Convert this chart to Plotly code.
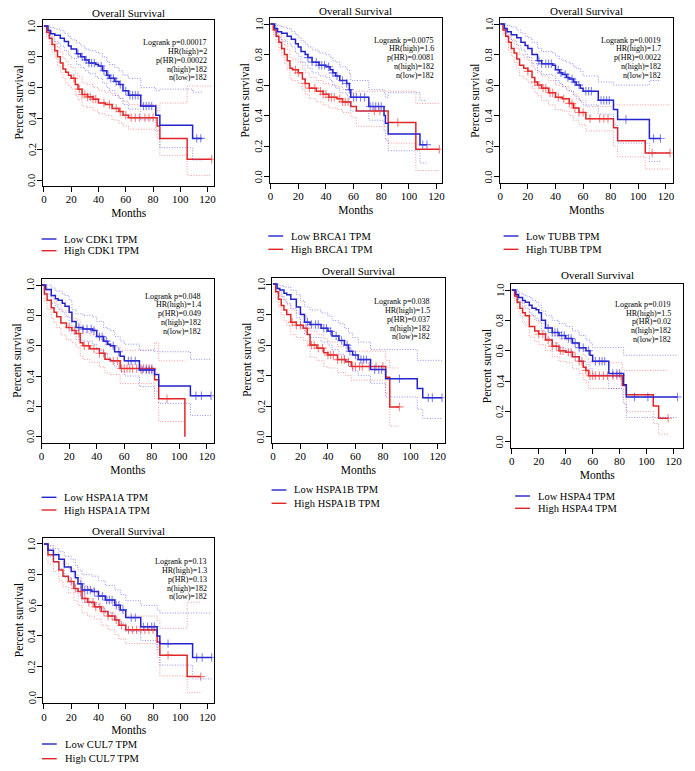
import plotly.graph_objects as go

W, H = 695, 771

# ---------------- data ----------------
GENES = ["CDK1", "BRCA1", "TUBB", "HSPA1A", "HSPA1B", "HSPA4", "CUL7"]
LOGRANK_P = ["0.00017", "0.0075", "0.0019", "0.048", "0.038", "0.019", "0.13"]
HR_HIGH = ["2", "1.6", "1.7", "1.4", "1.5", "1.5", "1.3"]
P_HR = ["0.00022", "0.0081", "0.0022", "0.049", "0.037", "0.02", "0.13"]
N_HIGH = [182, 182, 182, 182, 182, 182, 182]
N_LOW = [182, 182, 182, 182, 182, 182, 182]
X_TICKS = [0, 20, 40, 60, 80, 100, 120]
Y_TICKS = [0.0, 0.2, 0.4, 0.6, 0.8, 1.0]

# CDK1
CDK1_LOW_T = [0, 3, 5, 8, 12, 15, 18, 20, 24, 27, 30, 33, 38, 40, 43, 46, 48, 52, 55, 58, 62, 71, 82, 85, 109, 116]
CDK1_LOW_S = [1.0, 0.97, 0.95, 0.94, 0.92, 0.90, 0.87, 0.85, 0.82, 0.80, 0.78, 0.76, 0.75, 0.74, 0.71, 0.68, 0.66, 0.64, 0.62, 0.58, 0.55, 0.48, 0.42, 0.355, 0.27, 0.27]
CDK1_LOW_UP = [1.0, 1.0, 0.99, 0.98, 0.97, 0.95, 0.93, 0.91, 0.89, 0.87, 0.85, 0.84, 0.83, 0.82, 0.80, 0.77, 0.75, 0.73, 0.71, 0.68, 0.66, 0.60, 0.58, 0.59, 0.57, 0.57]
CDK1_LOW_LO = [1.0, 0.94, 0.91, 0.89, 0.87, 0.84, 0.81, 0.79, 0.75, 0.73, 0.71, 0.69, 0.67, 0.66, 0.63, 0.60, 0.58, 0.55, 0.53, 0.49, 0.46, 0.39, 0.32, 0.21, 0.13, 0.13]
CDK1_LOW_CENS = [25, 28, 31, 33, 35, 37, 42, 44, 47, 49, 51, 53, 56, 60, 63, 65, 67, 69, 73, 75, 77, 79, 112, 115]
CDK1_HIGH_T = [0, 2, 4, 6, 8, 10, 12, 14, 16, 18, 20, 23, 25, 28, 32, 36, 40, 45, 50, 55, 58, 62, 83, 85, 105, 123]
CDK1_HIGH_S = [1.0, 0.96, 0.92, 0.88, 0.84, 0.80, 0.76, 0.72, 0.70, 0.68, 0.66, 0.62, 0.59, 0.555, 0.54, 0.525, 0.50, 0.49, 0.465, 0.445, 0.42, 0.405, 0.35, 0.27, 0.135, 0.135]
CDK1_HIGH_UP = [1.0, 0.99, 0.96, 0.93, 0.90, 0.86, 0.83, 0.79, 0.77, 0.75, 0.73, 0.69, 0.67, 0.63, 0.62, 0.60, 0.58, 0.57, 0.55, 0.53, 0.51, 0.49, 0.45, 0.50, 0.61, 0.61]
CDK1_HIGH_LO = [1.0, 0.93, 0.88, 0.83, 0.79, 0.74, 0.70, 0.66, 0.63, 0.61, 0.59, 0.55, 0.52, 0.48, 0.47, 0.45, 0.43, 0.42, 0.39, 0.37, 0.35, 0.33, 0.27, 0.16, 0.03, 0.03]
CDK1_HIGH_CENS = [22, 26, 28, 30, 32, 34, 36, 38, 44, 48, 53, 56, 60, 64, 67, 70, 74, 77, 80, 123]

# BRCA1
BRCA1_LOW_T = [0, 3, 5, 8, 12, 15, 18, 20, 22, 25, 27, 30, 35, 40, 43, 45, 47, 50, 55, 57, 58, 71, 82, 83, 85, 108, 113]
BRCA1_LOW_S = [1.0, 0.97, 0.95, 0.94, 0.92, 0.90, 0.87, 0.85, 0.82, 0.80, 0.78, 0.75, 0.73, 0.72, 0.70, 0.68, 0.66, 0.63, 0.61, 0.57, 0.52, 0.46, 0.40, 0.35, 0.28, 0.21, 0.21]
BRCA1_LOW_UP = [1.0, 1.0, 0.99, 0.98, 0.97, 0.95, 0.93, 0.91, 0.89, 0.87, 0.85, 0.83, 0.81, 0.80, 0.78, 0.76, 0.75, 0.72, 0.70, 0.67, 0.63, 0.57, 0.55, 0.52, 0.55, 0.50, 0.50]
BRCA1_LOW_LO = [1.0, 0.94, 0.91, 0.89, 0.87, 0.85, 0.81, 0.79, 0.75, 0.73, 0.71, 0.68, 0.66, 0.65, 0.63, 0.60, 0.58, 0.55, 0.53, 0.49, 0.43, 0.37, 0.30, 0.24, 0.17, 0.09, 0.09]
BRCA1_LOW_CENS = [27, 30, 33, 35, 37, 39, 42, 45, 48, 52, 55, 57, 60, 62, 65, 68, 72, 74, 76, 78, 80, 110, 113]
BRCA1_HIGH_T = [0, 2, 4, 6, 8, 10, 12, 14, 16, 20, 23, 25, 28, 33, 38, 42, 48, 52, 58, 62, 85, 105, 122]
BRCA1_HIGH_S = [1.0, 0.96, 0.92, 0.88, 0.84, 0.80, 0.76, 0.71, 0.70, 0.68, 0.64, 0.61, 0.58, 0.56, 0.54, 0.52, 0.51, 0.49, 0.46, 0.43, 0.355, 0.18, 0.18]
BRCA1_HIGH_UP = [1.0, 0.99, 0.96, 0.93, 0.90, 0.86, 0.83, 0.78, 0.77, 0.75, 0.71, 0.68, 0.65, 0.63, 0.61, 0.60, 0.59, 0.57, 0.55, 0.56, 0.56, 0.48, 0.48]
BRCA1_HIGH_LO = [1.0, 0.93, 0.88, 0.83, 0.79, 0.74, 0.70, 0.64, 0.63, 0.61, 0.57, 0.54, 0.51, 0.49, 0.47, 0.45, 0.44, 0.42, 0.39, 0.33, 0.22, 0.04, 0.04]
BRCA1_HIGH_CENS = [18, 20, 25, 28, 32, 36, 38, 40, 42, 44, 46, 50, 52, 54, 56, 75, 79, 92, 122]

# TUBB
TUBB_LOW_T = [0, 3, 5, 8, 12, 15, 18, 20, 23, 27, 30, 38, 40, 43, 45, 48, 50, 53, 55, 58, 60, 71, 82, 85, 108, 116]
TUBB_LOW_S = [1.0, 0.97, 0.95, 0.93, 0.91, 0.88, 0.86, 0.84, 0.80, 0.76, 0.74, 0.73, 0.70, 0.68, 0.67, 0.65, 0.64, 0.62, 0.60, 0.58, 0.56, 0.50, 0.44, 0.375, 0.25, 0.25]
TUBB_LOW_UP = [1.0, 1.0, 0.99, 0.98, 0.96, 0.94, 0.92, 0.91, 0.88, 0.84, 0.82, 0.81, 0.79, 0.77, 0.76, 0.75, 0.74, 0.72, 0.71, 0.69, 0.66, 0.62, 0.60, 0.60, 0.63, 0.63]
TUBB_LOW_LO = [1.0, 0.94, 0.91, 0.89, 0.86, 0.83, 0.80, 0.78, 0.74, 0.69, 0.67, 0.66, 0.63, 0.61, 0.59, 0.57, 0.56, 0.54, 0.51, 0.49, 0.47, 0.41, 0.34, 0.22, 0.10, 0.10]
TUBB_LOW_CENS = [28, 30, 33, 35, 37, 42, 44, 47, 49, 52, 54, 57, 62, 64, 66, 73, 75, 77, 79, 91, 111, 116]
TUBB_HIGH_T = [0, 2, 4, 6, 8, 10, 12, 14, 17, 20, 23, 25, 27, 30, 35, 40, 45, 50, 53, 57, 62, 82, 85, 105, 123]
TUBB_HIGH_S = [1.0, 0.96, 0.92, 0.88, 0.84, 0.81, 0.77, 0.73, 0.71, 0.69, 0.65, 0.62, 0.60, 0.58, 0.55, 0.52, 0.51, 0.48, 0.45, 0.42, 0.38, 0.32, 0.235, 0.155, 0.155]
TUBB_HIGH_UP = [1.0, 0.99, 0.96, 0.93, 0.90, 0.87, 0.84, 0.80, 0.78, 0.76, 0.72, 0.70, 0.68, 0.66, 0.63, 0.60, 0.59, 0.56, 0.53, 0.50, 0.46, 0.47, 0.47, 0.47, 0.47]
TUBB_HIGH_LO = [1.0, 0.93, 0.88, 0.83, 0.79, 0.75, 0.71, 0.66, 0.64, 0.62, 0.58, 0.55, 0.53, 0.50, 0.47, 0.44, 0.43, 0.40, 0.37, 0.34, 0.30, 0.20, 0.13, 0.05, 0.05]
TUBB_HIGH_CENS = [20, 25, 28, 31, 33, 36, 38, 42, 46, 50, 52, 54, 57, 60, 65, 72, 75, 78, 110, 123]

# HSPA1A
HSPA1A_LOW_T = [0, 3, 7, 10, 12, 15, 17, 20, 22, 25, 30, 37, 40, 45, 48, 50, 53, 57, 60, 71, 82, 85, 108, 123]
HSPA1A_LOW_S = [1.0, 0.97, 0.93, 0.91, 0.90, 0.88, 0.86, 0.82, 0.76, 0.72, 0.71, 0.70, 0.66, 0.63, 0.61, 0.60, 0.56, 0.53, 0.50, 0.44, 0.41, 0.335, 0.27, 0.27]
HSPA1A_LOW_UP = [1.0, 1.0, 0.98, 0.96, 0.96, 0.94, 0.93, 0.90, 0.84, 0.81, 0.80, 0.79, 0.76, 0.72, 0.71, 0.70, 0.66, 0.63, 0.61, 0.57, 0.56, 0.56, 0.51, 0.51]
HSPA1A_LOW_LO = [1.0, 0.94, 0.88, 0.86, 0.84, 0.82, 0.79, 0.75, 0.68, 0.64, 0.63, 0.61, 0.57, 0.54, 0.52, 0.50, 0.46, 0.43, 0.40, 0.33, 0.30, 0.22, 0.14, 0.14]
HSPA1A_LOW_CENS = [27, 30, 33, 36, 38, 42, 44, 47, 52, 56, 63, 65, 68, 73, 76, 78, 80, 112, 116, 123]
HSPA1A_HIGH_T = [0, 2, 4, 7, 9, 11, 14, 18, 22, 25, 28, 30, 35, 42, 46, 50, 57, 82, 85, 104]
HSPA1A_HIGH_S = [1.0, 0.94, 0.90, 0.85, 0.82, 0.79, 0.75, 0.72, 0.70, 0.68, 0.62, 0.60, 0.58, 0.55, 0.51, 0.50, 0.45, 0.375, 0.25, 0.0]
HSPA1A_HIGH_UP = [1.0, 0.99, 0.96, 0.92, 0.89, 0.87, 0.83, 0.80, 0.78, 0.77, 0.71, 0.69, 0.67, 0.64, 0.60, 0.59, 0.57, 0.62, 0.50, 0.50]
HSPA1A_HIGH_LO = [1.0, 0.89, 0.84, 0.78, 0.75, 0.72, 0.67, 0.64, 0.62, 0.59, 0.53, 0.51, 0.49, 0.46, 0.42, 0.41, 0.35, 0.25, 0.10, 0.10]
HSPA1A_HIGH_CENS = [20, 24, 27, 31, 34, 38, 42, 45, 52, 55, 58, 60, 62, 64, 66, 69, 72, 74, 76, 78, 80, 91]

# HSPA1B
HSPA1B_LOW_T = [0, 3, 5, 8, 10, 13, 17, 20, 23, 27, 35, 40, 43, 48, 52, 55, 58, 62, 71, 82, 105, 109, 123]
HSPA1B_LOW_S = [1.0, 0.97, 0.96, 0.94, 0.93, 0.90, 0.85, 0.80, 0.75, 0.735, 0.71, 0.69, 0.66, 0.63, 0.60, 0.56, 0.535, 0.505, 0.44, 0.38, 0.315, 0.255, 0.255]
HSPA1B_LOW_UP = [1.0, 1.0, 0.99, 0.98, 0.98, 0.96, 0.93, 0.89, 0.85, 0.83, 0.81, 0.79, 0.76, 0.74, 0.71, 0.68, 0.65, 0.62, 0.57, 0.57, 0.50, 0.50, 0.50]
HSPA1B_LOW_LO = [1.0, 0.94, 0.92, 0.89, 0.87, 0.84, 0.78, 0.72, 0.67, 0.65, 0.62, 0.60, 0.57, 0.54, 0.50, 0.46, 0.43, 0.40, 0.35, 0.26, 0.18, 0.12, 0.12]
HSPA1B_LOW_CENS = [25, 28, 31, 33, 37, 39, 42, 46, 50, 54, 56, 60, 64, 66, 68, 74, 77, 79, 92, 113, 116, 123]
HSPA1B_HIGH_T = [0, 2, 4, 6, 8, 10, 13, 17, 22, 25, 27, 32, 37, 40, 47, 53, 57, 82, 85, 92]
HSPA1B_HIGH_S = [1.0, 0.95, 0.90, 0.86, 0.83, 0.80, 0.75, 0.73, 0.71, 0.67, 0.60, 0.58, 0.55, 0.535, 0.505, 0.49, 0.46, 0.39, 0.195, 0.195]
HSPA1B_HIGH_UP = [1.0, 0.99, 0.95, 0.92, 0.90, 0.87, 0.83, 0.81, 0.79, 0.75, 0.69, 0.67, 0.64, 0.62, 0.59, 0.58, 0.56, 0.50, 0.45, 0.45]
HSPA1B_HIGH_LO = [1.0, 0.91, 0.85, 0.80, 0.76, 0.73, 0.67, 0.65, 0.63, 0.59, 0.52, 0.50, 0.46, 0.45, 0.42, 0.40, 0.37, 0.28, 0.07, 0.07]
HSPA1B_HIGH_CENS = [14, 17, 20, 24, 28, 30, 33, 36, 40, 42, 44, 47, 50, 52, 55, 58, 60, 63, 65, 70, 75, 80, 92]

# HSPA4
HSPA4_LOW_T = [0, 3, 5, 8, 10, 13, 15, 18, 20, 22, 25, 30, 35, 40, 45, 50, 55, 58, 60, 72, 83, 85, 123]
HSPA4_LOW_S = [1.0, 0.97, 0.95, 0.93, 0.92, 0.90, 0.88, 0.87, 0.85, 0.80, 0.75, 0.72, 0.70, 0.68, 0.65, 0.62, 0.60, 0.57, 0.53, 0.45, 0.375, 0.295, 0.295]
HSPA4_LOW_UP = [1.0, 1.0, 0.98, 0.97, 0.96, 0.95, 0.93, 0.92, 0.90, 0.86, 0.83, 0.80, 0.78, 0.76, 0.73, 0.70, 0.67, 0.65, 0.62, 0.62, 0.57, 0.57, 0.57]
HSPA4_LOW_LO = [1.0, 0.94, 0.92, 0.89, 0.88, 0.85, 0.83, 0.81, 0.79, 0.73, 0.68, 0.65, 0.62, 0.60, 0.56, 0.53, 0.51, 0.48, 0.44, 0.35, 0.25, 0.16, 0.16]
HSPA4_LOW_CENS = [27, 30, 32, 34, 37, 39, 42, 44, 47, 50, 53, 57, 62, 65, 67, 69, 75, 78, 80, 91, 101, 123]
HSPA4_HIGH_T = [0, 2, 4, 6, 8, 10, 13, 17, 20, 25, 30, 35, 40, 45, 50, 53, 55, 57, 82, 85, 105, 109, 116]
HSPA4_HIGH_S = [1.0, 0.96, 0.92, 0.88, 0.85, 0.83, 0.76, 0.73, 0.71, 0.67, 0.63, 0.60, 0.59, 0.56, 0.53, 0.49, 0.47, 0.435, 0.37, 0.31, 0.235, 0.155, 0.155]
HSPA4_HIGH_UP = [1.0, 0.99, 0.96, 0.93, 0.91, 0.90, 0.83, 0.80, 0.78, 0.75, 0.70, 0.68, 0.67, 0.64, 0.61, 0.57, 0.55, 0.52, 0.47, 0.47, 0.47, 0.47, 0.47]
HSPA4_HIGH_LO = [1.0, 0.93, 0.88, 0.83, 0.79, 0.77, 0.69, 0.66, 0.64, 0.60, 0.56, 0.53, 0.52, 0.48, 0.45, 0.41, 0.39, 0.35, 0.29, 0.20, 0.12, 0.05, 0.05]
HSPA4_HIGH_CENS = [20, 23, 27, 30, 33, 36, 38, 42, 44, 47, 50, 52, 55, 58, 60, 62, 65, 68, 71, 75, 78, 81, 116]

# CUL7
CUL7_LOW_T = [0, 3, 7, 11, 15, 20, 23, 25, 28, 35, 40, 45, 52, 56, 60, 71, 83, 85, 109, 123]
CUL7_LOW_S = [1.0, 0.96, 0.93, 0.90, 0.85, 0.82, 0.78, 0.74, 0.70, 0.69, 0.66, 0.635, 0.60, 0.57, 0.52, 0.46, 0.40, 0.35, 0.26, 0.26]
CUL7_LOW_UP = [1.0, 0.99, 0.97, 0.95, 0.92, 0.90, 0.86, 0.83, 0.80, 0.79, 0.76, 0.73, 0.70, 0.67, 0.63, 0.60, 0.57, 0.55, 0.55, 0.55]
CUL7_LOW_LO = [1.0, 0.92, 0.88, 0.84, 0.78, 0.74, 0.70, 0.66, 0.62, 0.61, 0.58, 0.55, 0.51, 0.48, 0.43, 0.37, 0.31, 0.21, 0.12, 0.12]
CUL7_LOW_CENS = [27, 30, 32, 34, 37, 40, 43, 46, 48, 50, 53, 55, 58, 64, 67, 73, 76, 79, 81, 91, 112, 116, 123]
CUL7_HIGH_T = [0, 3, 7, 11, 14, 18, 22, 25, 28, 32, 37, 42, 47, 52, 55, 60, 83, 85, 105, 115]
CUL7_HIGH_S = [1.0, 0.93, 0.885, 0.83, 0.79, 0.755, 0.71, 0.69, 0.645, 0.62, 0.59, 0.56, 0.53, 0.505, 0.47, 0.44, 0.36, 0.275, 0.135, 0.135]
CUL7_HIGH_UP = [1.0, 0.97, 0.94, 0.90, 0.87, 0.84, 0.80, 0.78, 0.73, 0.71, 0.68, 0.65, 0.62, 0.59, 0.56, 0.53, 0.50, 0.45, 0.62, 0.62]
CUL7_HIGH_LO = [1.0, 0.87, 0.82, 0.76, 0.72, 0.68, 0.63, 0.60, 0.55, 0.53, 0.51, 0.47, 0.44, 0.41, 0.38, 0.35, 0.26, 0.14, 0.03, 0.03]
CUL7_HIGH_CENS = [20, 23, 27, 30, 33, 36, 38, 41, 44, 47, 50, 53, 57, 62, 65, 68, 71, 74, 77, 80, 91, 115]

CURVES = [
    (CDK1_LOW_T, CDK1_LOW_S, CDK1_LOW_UP, CDK1_LOW_LO, CDK1_LOW_CENS,
     CDK1_HIGH_T, CDK1_HIGH_S, CDK1_HIGH_UP, CDK1_HIGH_LO, CDK1_HIGH_CENS),
    (BRCA1_LOW_T, BRCA1_LOW_S, BRCA1_LOW_UP, BRCA1_LOW_LO, BRCA1_LOW_CENS,
     BRCA1_HIGH_T, BRCA1_HIGH_S, BRCA1_HIGH_UP, BRCA1_HIGH_LO, BRCA1_HIGH_CENS),
    (TUBB_LOW_T, TUBB_LOW_S, TUBB_LOW_UP, TUBB_LOW_LO, TUBB_LOW_CENS,
     TUBB_HIGH_T, TUBB_HIGH_S, TUBB_HIGH_UP, TUBB_HIGH_LO, TUBB_HIGH_CENS),
    (HSPA1A_LOW_T, HSPA1A_LOW_S, HSPA1A_LOW_UP, HSPA1A_LOW_LO, HSPA1A_LOW_CENS,
     HSPA1A_HIGH_T, HSPA1A_HIGH_S, HSPA1A_HIGH_UP, HSPA1A_HIGH_LO, HSPA1A_HIGH_CENS),
    (HSPA1B_LOW_T, HSPA1B_LOW_S, HSPA1B_LOW_UP, HSPA1B_LOW_LO, HSPA1B_LOW_CENS,
     HSPA1B_HIGH_T, HSPA1B_HIGH_S, HSPA1B_HIGH_UP, HSPA1B_HIGH_LO, HSPA1B_HIGH_CENS),
    (HSPA4_LOW_T, HSPA4_LOW_S, HSPA4_LOW_UP, HSPA4_LOW_LO, HSPA4_LOW_CENS,
     HSPA4_HIGH_T, HSPA4_HIGH_S, HSPA4_HIGH_UP, HSPA4_HIGH_LO, HSPA4_HIGH_CENS),
    (CUL7_LOW_T, CUL7_LOW_S, CUL7_LOW_UP, CUL7_LOW_LO, CUL7_LOW_CENS,
     CUL7_HIGH_T, CUL7_HIGH_S, CUL7_HIGH_UP, CUL7_HIGH_LO, CUL7_HIGH_CENS),
]

# ---------------- layout geometry (pixels) ----------------
# x0px, x120px, box_left, box_right, y(1.0)px, y(0.0)px, title_y, stats_right, stats_top, legend_x, legend_y, legend_gap
GEOM = [
    (41.3, 206.7, 40.7, 213.3, 26.0, 180.0, 13.3, 208.3, 42.7, 39.0, 239.0, 11.7),
    (270.3, 438.0, 269.7, 443.0, 24.0, 176.7, 11.0, 437.0, 40.0, 268.0, 236.0, 13.3),
    (502.3, 669.7, 502.3, 676.7, 24.0, 176.7, 11.0, 666.3, 40.0, 505.7, 236.0, 13.3),
    (39.0, 206.0, 39.0, 213.3, 285.0, 436.7, None, 202.3, 296.0, 39.0, 497.3, 12.7),
    (272.7, 439.3, 272.0, 446.0, 284.0, 436.7, 270.7, 433.7, 301.7, 271.3, 490.0, 13.3),
    (514.0, 677.3, 513.3, 687.3, 290.0, 441.7, 275.0, 676.7, 304.3, 517.3, 496.0, 12.3),
    (41.3, 206.7, 40.7, 213.3, 544.0, 697.3, 531.0, 208.3, 561.7, 39.3, 744.0, 14.7),
]

BLUE = "#2323CC"
RED = "#E22626"
BLUE_CI = "rgba(70,70,235,0.6)"
RED_CI = "rgba(240,70,70,0.55)"
BLUE_CENS = "rgba(50,50,220,0.6)"
RED_CENS = "rgba(235,50,50,0.6)"
FONT = "Liberation Serif"
DOT = "1px,1.6px"


def step_at(ts, ss, c):
    v = ss[0]
    for t, s in zip(ts, ss):
        if t <= c:
            v = s
    return v


def px(x):
    return x / W


def py(y):
    return 1 - y / H


fig = go.Figure()
annotations = []
shapes = []
layout_axes = {}

for i, (gene, cur, g) in enumerate(zip(GENES, CURVES, GEOM)):
    k = i + 1
    xa = "x" if k == 1 else f"x{k}"
    ya = "y" if k == 1 else f"y{k}"
    (lt, ls, lu, ll, lc, ht, hs, hu, hl, hc) = cur
    x0p, x120p, L, R, y1p, y0p, ty, srx, sty, lgx, lgy, lgg = g

    for (t, s, u, lo, cens, col, cicol, ccol) in [
        (ht, hs, hu, hl, hc, RED, RED_CI, RED_CENS),
        (lt, ls, lu, ll, lc, BLUE, BLUE_CI, BLUE_CENS),
    ]:
        for band in (u, lo):
            fig.add_trace(go.Scatter(x=t, y=band, mode="lines", line_shape="hv",
                                     line=dict(color=cicol, width=1, dash=DOT),
                                     xaxis=xa, yaxis=ya, showlegend=False, hoverinfo="skip"))
        fig.add_trace(go.Scatter(x=t, y=s, mode="lines", line_shape="hv",
                                 line=dict(color=col, width=1.5),
                                 xaxis=xa, yaxis=ya, showlegend=False))
        fig.add_trace(go.Scatter(x=cens, y=[step_at(t, s, c) for c in cens], mode="markers",
                                 marker=dict(symbol="cross-thin-open", size=6, color=ccol,
                                             line=dict(color=ccol, width=1.1)),
                                 xaxis=xa, yaxis=ya, showlegend=False))

    kpx = (x120p - x0p) / 120.0
    xr = [(L - x0p) / kpx, (R - x0p) / kpx]
    span = y0p - y1p
    T = y1p - 0.04 * span
    B = y0p + 0.04 * span

    axis_common = dict(showline=True, mirror=True, linecolor="black", linewidth=1,
                       ticks="outside", ticklen=5, tickwidth=1, tickcolor="black",
                       showgrid=False, zeroline=False,
                       tickfont=dict(family=FONT, size=11, color="black"))
    layout_axes[f"xaxis{'' if k == 1 else k}"] = dict(
        axis_common, domain=[px(L), px(R)], range=xr, anchor=ya,
        tickmode="array", tickvals=X_TICKS, ticktext=[str(v) for v in X_TICKS],
        ticklabelstandoff=-2,
        title=dict(text="Months", font=dict(family=FONT, size=11.5, color="black"), standoff=4))
    layout_axes[f"yaxis{'' if k == 1 else k}"] = dict(
        axis_common, domain=[py(B), py(T)], range=[-0.04, 1.04], anchor=xa,
        tickmode="array", tickvals=Y_TICKS, showticklabels=False)

    # vertical y tick labels, positioned through the y axis scale
    for v in Y_TICKS:
        annotations.append(dict(text=f"{v:.1f}", x=px(L - 11.5), y=v, xref="paper", yref=ya,
                                textangle=-90, showarrow=False, xanchor="center", yanchor="middle",
                                font=dict(family=FONT, size=10.5, color="black")))
    annotations.append(dict(text="Percent survival", x=px(L - 25), y=py((T + B) / 2),
                            xref="paper", yref="paper", textangle=-90, showarrow=False,
                            xanchor="center", yanchor="middle",
                            font=dict(family=FONT, size=11.5, color="black")))

    if ty is not None:
        annotations.append(dict(text="Overall Survival", x=px((L + R) / 2), y=py(ty),
                                xref="paper", yref="paper", showarrow=False,
                                xanchor="center", yanchor="middle",
                                font=dict(family=FONT, size=11, color="black")))
    stats = [f"Logrank p={LOGRANK_P[i]}", f"HR(high)={HR_HIGH[i]}", f"p(HR)={P_HR[i]}",
             f"n(high)={N_HIGH[i]}", f"n(low)={N_LOW[i]}"]
    for j, line in enumerate(stats):
        annotations.append(dict(text=line, x=px(srx), y=py(sty + j * 8.8),
                                xref="paper", yref="paper", showarrow=False,
                                xanchor="right", yanchor="middle",
                                font=dict(family=FONT, size=8, color="black")))
    for j, (lab, col) in enumerate([(f"Low {gene} TPM", BLUE), (f"High {gene} TPM", RED)]):
        yy = lgy + j * lgg
        shapes.append(dict(type="line", xref="paper", yref="paper",
                           x0=px(lgx), x1=px(lgx + 15), y0=py(yy), y1=py(yy),
                           line=dict(color=col, width=1.4)))
        annotations.append(dict(text=lab, x=px(lgx + 21), y=py(yy), xref="paper", yref="paper",
                                showarrow=False, xanchor="left", yanchor="middle",
                                font=dict(family=FONT, size=10.5, color="black")))

fig.update_layout(width=W, height=H, margin=dict(l=0, r=0, t=0, b=0),
                  paper_bgcolor="white", plot_bgcolor="white",
                  font=dict(family=FONT, color="black"),
                  annotations=annotations, shapes=shapes, showlegend=False,
                  **layout_axes)

fig.write_html("out.html", config={"displayModeBar": False},
               post_script="document.body.style.margin='0';document.body.style.overflow='hidden';")
